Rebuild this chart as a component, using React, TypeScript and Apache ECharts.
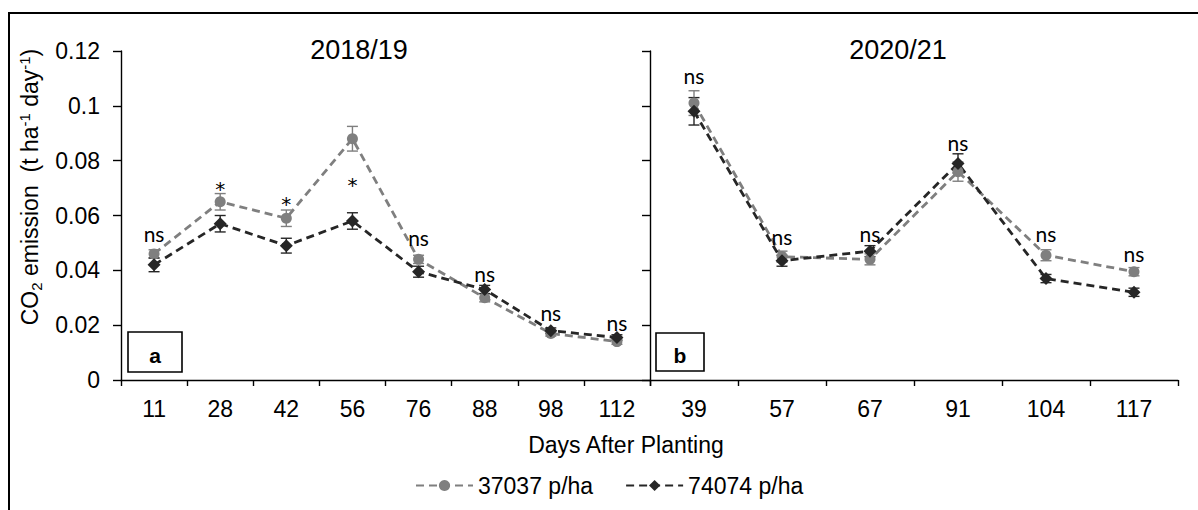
import React, { useEffect, useRef } from "react";
import * as echarts from "echarts";

const catsA = ["11", "28", "42", "56", "76", "88", "98", "112"];
const catsB = ["39", "57", "67", "91", "104", "117"];

const lowA = [0.046, 0.065, 0.059, 0.088, 0.044, 0.030, 0.017, 0.014];
const lowErrA = [0.0015, 0.003, 0.003, 0.0045, 0.0015, 0.0015, 0.001, 0.001];
const highA = [0.042, 0.057, 0.049, 0.058, 0.0395, 0.033, 0.018, 0.0155];
const highErrA = [0.0025, 0.003, 0.0027, 0.003, 0.002, 0.0015, 0.001, 0.001];

const lowB = [0.101, 0.045, 0.044, 0.076, 0.0455, 0.0395];
const lowErrB = [0.0045, 0.002, 0.002, 0.0035, 0.002, 0.0015];
const highB = [0.098, 0.0435, 0.047, 0.079, 0.037, 0.032];
const highErrB = [0.005, 0.002, 0.002, 0.0035, 0.0015, 0.0015];

const annTextA = ["ns", "*", "*", "*", "ns", "ns", "ns", "ns"];
const annPosA = [0.0536, 0.0695, 0.0641, 0.071, 0.0518, 0.039, 0.0248, 0.0208];
const annTextB = ["ns", "ns", "ns", "ns", "ns", "ns"];
const annPosB = [0.1109, 0.0525, 0.0536, 0.0868, 0.0536, 0.046];

const yTicks = { min: 0, max: 0.12, interval: 0.02 };

const GRAY = "#7f7f7f";
const DARK = "#262626";
const AX = "Liberation Sans, Arial, sans-serif";
const ANN = "Lato, Open Sans, sans-serif";
const STAR = "DejaVu Sans, sans-serif";

function errData(vals: number[], errs: number[]) {
  return vals.map((v, i) => [i, v - errs[i], v + errs[i]]);
}

function errSeries(idx: number, vals: number[], errs: number[], color: string) {
  return {
    type: "custom",
    xAxisIndex: idx,
    yAxisIndex: idx,
    z: 1,
    silent: true,
    data: errData(vals, errs),
    renderItem: (params: any, api: any) => {
      const x = api.value(0);
      const lo = api.coord([x, api.value(1)]);
      const hi = api.coord([x, api.value(2)]);
      const w = 5.5;
      const st = { stroke: color, lineWidth: 1.4 };
      return {
        type: "group",
        children: [
          { type: "line", shape: { x1: lo[0], y1: lo[1], x2: hi[0], y2: hi[1] }, style: st },
          { type: "line", shape: { x1: lo[0] - w, y1: lo[1], x2: lo[0] + w, y2: lo[1] }, style: st },
          { type: "line", shape: { x1: hi[0] - w, y1: hi[1], x2: hi[0] + w, y2: hi[1] }, style: st },
        ],
      };
    },
  };
}

function lineSeries(idx: number, name: string, vals: number[], color: string, symbol: string, size: number) {
  return {
    type: "line",
    name,
    xAxisIndex: idx,
    yAxisIndex: idx,
    data: vals,
    z: 3,
    symbol,
    symbolSize: size,
    itemStyle: { color },
    lineStyle: { color, width: 2.8, type: [8, 5] },
  };
}

function annSeries(idx: number, pos: number[], texts: string[]) {
  return {
    type: "custom",
    xAxisIndex: idx,
    yAxisIndex: idx,
    silent: true,
    z: 5,
    data: pos.map((v, i) => [i, v]),
    renderItem: (params: any, api: any) => {
      const p = api.coord([api.value(0), api.value(1)]);
      const t = texts[params.dataIndex];
      const star = t === "*";
      return {
        type: "text",
        x: p[0],
        y: p[1],
        style: {
          text: t,
          fill: "#000",
          fontFamily: star ? STAR : ANN,
          fontSize: star ? 20 : 21,
          align: "center",
          verticalAlign: "middle",
        },
      };
    },
  };
}

function xAxis(idx: number, data: string[]) {
  return {
    type: "category",
    gridIndex: idx,
    data,
    boundaryGap: true,
    axisLine: { lineStyle: { color: "#000", width: 1.4 } },
    axisTick: { show: true, length: 6, lineStyle: { color: "#000", width: 1.4 } },
    axisLabel: { color: "#000", fontFamily: AX, fontSize: 23, margin: 17 },
    splitLine: { show: false },
  };
}

function yAxis(idx: number, showLabels: boolean) {
  return {
    type: "value",
    gridIndex: idx,
    min: yTicks.min,
    max: yTicks.max,
    interval: yTicks.interval,
    axisLine: { show: true, lineStyle: { color: "#000", width: 1.4 } },
    axisTick: { show: true, length: 8, lineStyle: { color: "#000", width: 1.4 } },
    axisLabel: { show: showLabels, color: "#000", fontFamily: AX, fontSize: 23, margin: 21 },
    splitLine: { show: false },
  };
}

export default function App() {
  const ref = useRef<HTMLDivElement>(null);
  useEffect(() => {
    document.body.style.margin = "0";
    const chart = echarts.init(ref.current!, null, { renderer: "svg" });
    chart.setOption({
      animation: false,
      backgroundColor: "#fff",
      grid: [
        { left: 121, top: 51, width: 529, height: 329 },
        { left: 650, top: 51, width: 528, height: 329 },
      ],
      xAxis: [xAxis(0, catsA), xAxis(1, catsB)],
      yAxis: [yAxis(0, true), yAxis(1, false)],
      legend: {
        left: 410,
        top: 469,
        itemWidth: 57,
        itemHeight: 14,
        itemGap: 32,
        data: ["37037 p/ha", "74074 p/ha"],
        textStyle: { color: "#000", fontFamily: AX, fontSize: 23 },
      },
      series: [
        errSeries(0, lowA, lowErrA, GRAY),
        errSeries(0, highA, highErrA, DARK),
        lineSeries(0, "37037 p/ha", lowA, GRAY, "circle", 11),
        lineSeries(0, "74074 p/ha", highA, DARK, "diamond", 13),
        errSeries(1, lowB, lowErrB, GRAY),
        errSeries(1, highB, highErrB, DARK),
        lineSeries(1, "37037 p/ha", lowB, GRAY, "circle", 11),
        lineSeries(1, "74074 p/ha", highB, DARK, "diamond", 13),
        annSeries(0, annPosA, annTextA),
        annSeries(1, annPosB, annTextB),
      ],
      graphic: [
        {
          type: "rect",
          shape: { x: 9, y: 13, width: 1300, height: 600 },
          style: { fill: "none", stroke: "#000", lineWidth: 2 },
          z: 10,
        },
        {
          type: "rect",
          shape: { x: 128, y: 332, width: 54, height: 40 },
          style: { fill: "#fff", stroke: "#000", lineWidth: 1.6 },
          z: 10,
        },
        {
          type: "text",
          x: 155,
          y: 355,
          z: 11,
          style: { text: "a", fontFamily: AX, fontWeight: "bold", fontSize: 21, fill: "#000", align: "center", verticalAlign: "middle" },
        },
        {
          type: "rect",
          shape: { x: 656, y: 333, width: 48, height: 38 },
          style: { fill: "#fff", stroke: "#000", lineWidth: 1.6 },
          z: 10,
        },
        {
          type: "text",
          x: 680,
          y: 355,
          z: 11,
          style: { text: "b", fontFamily: AX, fontWeight: "bold", fontSize: 21, fill: "#000", align: "center", verticalAlign: "middle" },
        },
        {
          type: "text",
          x: 359,
          y: 50,
          style: { text: "2018/19", fontFamily: AX, fontSize: 27, fill: "#000", align: "center", verticalAlign: "middle" },
        },
        {
          type: "text",
          x: 898,
          y: 50,
          style: { text: "2020/21", fontFamily: AX, fontSize: 27, fill: "#000", align: "center", verticalAlign: "middle" },
        },
        {
          type: "text",
          x: 626,
          y: 445,
          style: { text: "Days After Planting", fontFamily: AX, fontSize: 23, fill: "#000", align: "center", verticalAlign: "middle" },
        },
        {
          type: "text",
          x: 30,
          y: 187,
          rotation: Math.PI / 2,
          style: {
            text: "{n|CO}{sub|2}{n| emission  (t ha}{sup|-1}{n| day}{sup|-1}{n|)}",
            align: "center",
            verticalAlign: "middle",
            fill: "#000",
            rich: {
              n: { fontFamily: AX, fontSize: 23, fill: "#000" },
              sub: { fontFamily: AX, fontSize: 15, fill: "#000", padding: [12, 0, 0, 0] },
              sup: { fontFamily: AX, fontSize: 15, fill: "#000", padding: [0, 0, 12, 0] },
            },
          },
        },
      ],
    });
    return () => chart.dispose();
  }, []);
  return <div ref={ref} style={{ width: 1198, height: 510 }} />;
}
